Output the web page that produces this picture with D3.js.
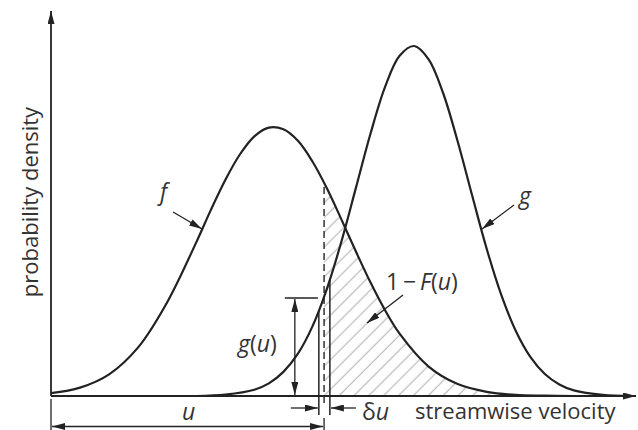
<!DOCTYPE html>
<html>
<head>
<meta charset="utf-8">
<script src="https://cdn.jsdelivr.net/npm/d3@7"></script>
<style>
  body { margin: 0; background: #fff; }
  text { font-family: "Open Sans", sans-serif; fill: #333; }
</style>
</head>
<body>
<script>
// two velocity pdfs: f (slower, wider) and g (faster, taller)
var fVelocity = [0, 0.5, 1, 1.5, 2, 2.5, 2.75, 3, 3.25, 3.5, 3.75, 4, 4.25, 4.5, 4.75, 5, 5.25, 5.5, 5.75, 6, 6.5, 7, 7.5, 8, 8.5, 9];
var fDensity = [0.008, 0.024, 0.062, 0.139, 0.268, 0.439, 0.531, 0.617, 0.690, 0.742, 0.767, 0.762, 0.729, 0.670, 0.593, 0.504, 0.412, 0.324, 0.245, 0.178, 0.084, 0.034, 0.012, 0.003, 0.001, 0];
var gVelocity = [2.5, 3, 3.5, 3.75, 4, 4.25, 4.5, 4.75, 5, 5.25, 5.5, 5.75, 6, 6.25, 6.5, 6.75, 7, 7.25, 7.5, 7.75, 8, 8.25, 8.5, 8.75, 9, 9.5, 10];
var gDensity = [0, 0.004, 0.018, 0.036, 0.069, 0.121, 0.199, 0.307, 0.442, 0.596, 0.750, 0.883, 0.972, 1.000, 0.962, 0.865, 0.727, 0.572, 0.420, 0.289, 0.186, 0.112, 0.063, 0.033, 0.016, 0.003, 0];

// the velocity u, the strip u..u+du and g read at u
var uValue = 4.70;
var duBounds = [4.61, 4.80];
var gAtU = 0.28;

var yLabel = 'probability density';
var xLabel = 'streamwise velocity';

var width = 638, height = 430;
var x = d3.scaleLinear().domain([0, 10]).range([51, 632]);
var y = d3.scaleLinear().domain([0, 1]).range([396, 46]);
var y0 = y(0);

var fPts = fVelocity.map(function(v, i) { return [v, fDensity[i]]; });
var gPts = gVelocity.map(function(v, i) { return [v, gDensity[i]]; });

var line = d3.line().x(function(d) { return x(d[0]); }).y(function(d) { return y(d[1]); }).curve(d3.curveCatmullRom);
var area = d3.area().x(function(d) { return x(d[0]); }).y0(y0).y1(function(d) { return y(d[1]); }).curve(d3.curveCatmullRom);

var svg = d3.select('body').append('svg').attr('width', width).attr('height', height);
var defs = svg.append('defs');

defs.append('marker').attr('id', 'arrow')
    .attr('viewBox', '0 0 13 7')
    .attr('refX', 13).attr('refY', 3.5)
    .attr('markerWidth', 13).attr('markerHeight', 7)
    .attr('markerUnits', 'userSpaceOnUse')
    .attr('orient', 'auto-start-reverse')
  .append('path').attr('d', 'M0,0L13,3.5L0,7Z').attr('fill', '#222');

defs.append('pattern').attr('id', 'hatch')
    .attr('patternUnits', 'userSpaceOnUse')
    .attr('width', 10.5).attr('height', 10.5)
    .attr('patternTransform', 'rotate(45)')
  .append('line').attr('x1', 5).attr('y1', 0).attr('x2', 5).attr('y2', 10.5)
    .attr('stroke', '#b4b4b4').attr('stroke-width', 1.1);

defs.append('clipPath').attr('id', 'clip-tail')
  .append('rect').attr('x', x(uValue)).attr('y', 0).attr('width', width - x(uValue)).attr('height', y0);

var fClip = defs.append('clipPath').attr('id', 'clip-f');
fClip.append('path').attr('d', area(fPts));
fClip.append('rect').attr('x', 0).attr('y', y0).attr('width', width).attr('height', 7);

var gClip = defs.append('clipPath').attr('id', 'clip-g');
gClip.append('path').attr('d', area(gPts));
gClip.append('rect').attr('x', 0).attr('y', y0).attr('width', width).attr('height', 19);

// 1 - F(u): hatched tail of f
svg.append('path').attr('d', area(fPts)).attr('fill', 'url(#hatch)').attr('clip-path', 'url(#clip-tail)');

// dashed line at u up to f
svg.append('line').attr('x1', x(uValue)).attr('x2', x(uValue)).attr('y1', y0 + 7).attr('y2', 0)
    .attr('stroke', '#222').attr('stroke-width', 1.4).attr('stroke-dasharray', '7,4')
    .attr('clip-path', 'url(#clip-f)');

// strip u .. u+du under g
svg.selectAll('.strip').data(duBounds).enter().append('line').attr('class', 'strip')
    .attr('x1', function(d) { return x(d); }).attr('x2', function(d) { return x(d); })
    .attr('y1', y0 + 19).attr('y2', 0)
    .attr('stroke', '#222').attr('stroke-width', 1.5)
    .attr('clip-path', 'url(#clip-g)');

svg.append('path').attr('d', line(fPts)).attr('fill', 'none').attr('stroke', '#222').attr('stroke-width', 2.2);
svg.append('path').attr('d', line(gPts)).attr('fill', 'none').attr('stroke', '#222').attr('stroke-width', 2.2);

// axes with arrow heads
svg.append('line').attr('x1', x(0)).attr('y1', y0).attr('x2', x(0)).attr('y2', 11)
    .attr('stroke', '#222').attr('stroke-width', 1.8).attr('marker-end', 'url(#arrow)');
svg.append('line').attr('x1', x(0)).attr('y1', y0).attr('x2', x(10) + 4).attr('y2', y0)
    .attr('stroke', '#222').attr('stroke-width', 1.8).attr('marker-end', 'url(#arrow)');

var dim = svg.append('g').attr('stroke', '#222').attr('stroke-width', 1.3).attr('fill', 'none');

// g(u) height marker
dim.append('line').attr('x1', x(duBounds[0]) - 34).attr('x2', x(duBounds[0]) - 1).attr('y1', y(gAtU)).attr('y2', y(gAtU));
dim.append('line').attr('x1', x(duBounds[0]) - 24).attr('x2', x(duBounds[0]) - 24).attr('y1', y(gAtU) + 1).attr('y2', y0 - 1)
    .attr('marker-start', 'url(#arrow)').attr('marker-end', 'url(#arrow)');

// du arrows
dim.append('line').attr('x1', x(duBounds[0]) - 28).attr('x2', x(duBounds[0]) - 1).attr('y1', y0 + 12).attr('y2', y0 + 12).attr('marker-end', 'url(#arrow)');
dim.append('line').attr('x1', x(duBounds[1]) + 26).attr('x2', x(duBounds[1]) + 1).attr('y1', y0 + 12).attr('y2', y0 + 12).attr('marker-end', 'url(#arrow)');

// u dimension
dim.append('line').attr('x1', x(0)).attr('x2', x(0)).attr('y1', y0 + 3).attr('y2', height);
dim.append('line').attr('x1', x(uValue)).attr('x2', x(uValue)).attr('y1', y0 + 22).attr('y2', height);
dim.append('line').attr('x1', x(0) + 1).attr('x2', x(uValue) - 1).attr('y1', y0 + 30.5).attr('y2', y0 + 30.5)
    .attr('marker-start', 'url(#arrow)').attr('marker-end', 'url(#arrow)');

// curve pointers
dim.append('line').attr('x1', 173).attr('y1', 212).attr('x2', 202).attr('y2', 229).attr('marker-end', 'url(#arrow)');
dim.append('line').attr('x1', 514).attr('y1', 205).attr('x2', 482).attr('y2', 229).attr('marker-end', 'url(#arrow)');
dim.append('line').attr('x1', 403).attr('y1', 295).attr('x2', 367).attr('y2', 323).attr('marker-end', 'url(#arrow)');

// labels
svg.append('text').attr('transform', 'translate(38,202) rotate(-90)').attr('text-anchor', 'middle')
    .attr('font-size', 22).text(yLabel);
svg.append('text').attr('x', 415).attr('y', 419).attr('font-size', 22).text(xLabel);

var addLabel = function(px, py, parts) {
  var t = svg.append('text').attr('x', px).attr('y', py).attr('font-size', 23);
  parts.forEach(function(p) {
    t.append('tspan').attr('font-style', p[1] ? 'italic' : 'normal').text(p[0]);
  });
};
addLabel(160, 200, [['f', 1]]);
addLabel(519, 204, [['g', 1]]);
addLabel(182, 420, [['u', 1]]);
addLabel(362, 420, [['\u03b4', 0], ['u', 1]]);
addLabel(238, 352, [['g', 1], ['(', 0], ['u', 1], [')', 0]]);
addLabel(386, 290, [['1\u2009\u2212\u2009', 0], ['F', 1], ['(', 0], ['u', 1], [')', 0]]);
</script>
</body>
</html>
